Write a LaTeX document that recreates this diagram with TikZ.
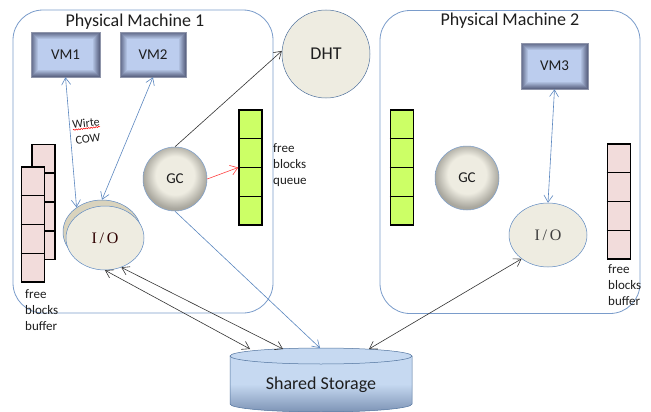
\documentclass[tikz,border=0pt]{standalone}
\usepackage{fontspec}
\setmainfont{Carlito}
\newfontfamily\iofont{Liberation Serif}
\usetikzlibrary{arrows.meta,decorations.pathmorphing,shapes.geometric,calc}
\definecolor{boxblue}{HTML}{7A9CCB}
\definecolor{lineblue}{HTML}{5B87C0}
\definecolor{vmin}{HTML}{BCCDEE}
\definecolor{vmdark}{HTML}{5F6886}
\definecolor{beige}{HTML}{EEECE1}
\definecolor{beigedark}{HTML}{A9A79E}
\definecolor{iotop}{HTML}{D9D3BD}
\definecolor{qgreen}{HTML}{CCFF66}
\definecolor{bpink}{HTML}{F2DCDB}
\definecolor{stblue}{HTML}{C6D9F1}
\definecolor{stdark}{HTML}{7D93B5}
\definecolor{stedge}{HTML}{51739E}
\definecolor{txt}{HTML}{1E1E1E}
\definecolor{redarrow}{HTML}{FF4040}
\pgfdeclareradialshading{gcshade}{\pgfpoint{0bp}{4bp}}{color(0bp)=(beige); color(15bp)=(beige); color(25bp)=(beigedark); color(50bp)=(beigedark)}
\tikzset{
  machine/.style={draw=boxblue, line width=0.8pt, rounded corners=30pt, inner sep=0pt,
    minimum width=260pt, minimum height=303pt},
  title/.style={font=\fontsize{18}{20}\selectfont, text=txt, inner sep=0pt},
  vmbox/.style={rectangle, draw=vmdark!70, line width=0.5pt, inner sep=0pt,
    font=\fontsize{15}{18}\selectfont, text=txt,
    path picture={
      \foreach \k in {0,...,7}{
        \pgfmathtruncatemacro\p{\k*100/7}
        \fill[vmin!\p!vmdark] ([xshift=\k pt,yshift=-\k pt]path picture bounding box.north west)
          rectangle ([xshift=-\k pt,yshift=\k pt]path picture bounding box.south east);
      }}},
  queue/.style={rectangle, draw=black, line width=1.6pt, fill=qgreen, inner sep=0pt,
    minimum width=23pt, minimum height=115pt},
  buffer/.style={rectangle, draw=black, line width=1.6pt, fill=bpink, inner sep=0pt,
    minimum width=23pt, minimum height=115pt},
  gcnode/.style={circle, draw=lineblue!80, line width=0.5pt, shading=gcshade, inner sep=0pt,
    minimum size=64pt, font=\fontsize{15}{18}\selectfont, text=txt},
  dhtnode/.style={circle, draw=stedge, line width=0.5pt, fill=beige, inner sep=0pt,
    minimum size=88pt, font=\fontsize{18}{20}\selectfont, text=txt},
  ionode/.style={ellipse, draw=lineblue, line width=0.5pt, fill=beige, inner sep=0pt,
    minimum width=78pt, minimum height=64pt, font=\iofont\fontsize{16}{18}\selectfont},
  note/.style={align=left, anchor=north west, inner sep=0pt, text=txt,
    font=\fontsize{13}{16}\selectfont},
  bluearrow/.style={draw=lineblue, line width=0.6pt,
    {Straight Barb[length=7pt,width=9pt]}-{Straight Barb[length=7pt,width=9pt]}},
  bluearrowone/.style={draw=lineblue, line width=0.6pt, -{Straight Barb[length=7pt,width=9pt]}},
  blackarrow/.style={draw=black!80, line width=0.6pt,
    {Straight Barb[length=7pt,width=9pt]}-{Straight Barb[length=7pt,width=9pt]}},
  blackarrowone/.style={draw=black!80, line width=0.6pt, -{Straight Barb[length=7pt,width=9pt]}},
  redarr/.style={draw=redarrow, line width=0.6pt, -{Straight Barb[length=7pt,width=10pt]}},
  smalllabel/.style={inner sep=0pt, font=\fontsize{12}{13}\selectfont, text=txt, rotate=7}
}
\newcommand{\celllines}[1]{%
  \foreach \f in {0.25,0.5,0.75}
    \draw[line width=1.6pt] ($(#1.north west)!\f!(#1.south west)$) -- ($(#1.north east)!\f!(#1.south east)$);}
\begin{document}
\begin{tikzpicture}[x=1pt,y=-1pt]
\useasboundingbox (0,0) rectangle (651,412);
\fill[white] (0,0) rectangle (651,412);

% machines
\node[machine] (pm1) at (143,161.5) {};
\node[machine] (pm2) at (510,162) {};
\node[title] (t1) at (135,22) {Physical Machine 1};
\node[title] (t2) at (510,21) {Physical Machine 2};

% VMs
\node[vmbox, minimum width=69pt, minimum height=45pt] (vm1) at (65.5,54.5) {VM1};
\node[vmbox, minimum width=66pt, minimum height=45pt] (vm2) at (153,54.5) {VM2};
\node[vmbox, minimum width=67pt, minimum height=46pt] (vm3) at (554.5,66) {VM3};

% DHT
\node[dhtnode] (dht) at (326,54) {DHT};

% queues
\node[queue] (q1) at (250.5,167.5) {};
\celllines{q1}
\node[queue] (q2) at (402,167.5) {};
\celllines{q2}
\node[note] (q1t) at (273,143) {free\\blocks\\queue};

% buffers PM1
\node[buffer] (b1back) at (43.5,202) {};
\celllines{b1back}
\node[buffer] (b1front) at (33,224.5) {};
\celllines{b1front}
\node[note] (b1t) at (25,289) {free\\blocks\\buffer};

% buffer PM2
\node[buffer] (b2) at (619,201.5) {};
\celllines{b2}
\node[note] (b2t) at (608,264) {free\\blocks\\buffer};

% GC
\node[gcnode] (gc1) at (175,179) {GC};
\node[gcnode] (gc2) at (467,178) {GC};

% I/O
\node[ionode, fill=iotop] (io1b) at (102,232) {};
\node[ionode, text=black!70!red!60!black] (io1) at (105,238) {I\,/\,O};
\node[ionode, text=black!75] (io2) at (548,235) {I\,/\,O};

% shared storage
\shade[top color=stblue, bottom color=stdark, middle color=stblue, shading angle=0]
  (230,356) -- (230,404) arc[start angle=180, end angle=360, x radius=91, y radius=-8] -- (412,356) -- cycle;
\draw[stedge, line width=0.5pt] (230,356) -- (230,404) arc[start angle=180, end angle=360, x radius=91, y radius=-8] -- (412,356);
\fill[stblue] (321,356) ellipse[x radius=91, y radius=8];
\draw[stedge, line width=0.5pt] (321,356) ellipse[x radius=91, y radius=8];
\node[font=\fontsize{18}{20}\selectfont, text=txt, inner sep=0pt] (st) at (321,385) {Shared Storage};
\coordinate (stA) at (250,349);
\coordinate (stB) at (283,349);
\coordinate (stC) at (320,348);
\coordinate (stD) at (369,349);

% connectors
\draw[bluearrow] (vm1.south) -- (io1b.136);
\draw[bluearrow] (vm2.south) -- (io1b.north);
\draw[bluearrow] (vm3.south) -- (io2.north);
\draw[blackarrowone] (gc1.north) -- (dht.176);
\draw[redarr] (gc1.east) -- (q1.west);
\draw[bluearrowone] (gc1.south) -- (stC);
\draw[blackarrow] (io1.south) -- (stA);
\draw[blackarrow] (io1.-61) -- (stB);
\draw[blackarrow] (io2.222) -- (stD);

% Wirte COW label
\node[smalllabel] (wirte) at (86,123) {Wirte};
\node[smalllabel] (cowlbl) at (88,139) {COW};
\draw[red, line width=0.5pt, decorate, decoration={snake, amplitude=0.6pt, segment length=2.5pt}]
  (73,130) -- (100,126.7);
\end{tikzpicture}
\end{document}
